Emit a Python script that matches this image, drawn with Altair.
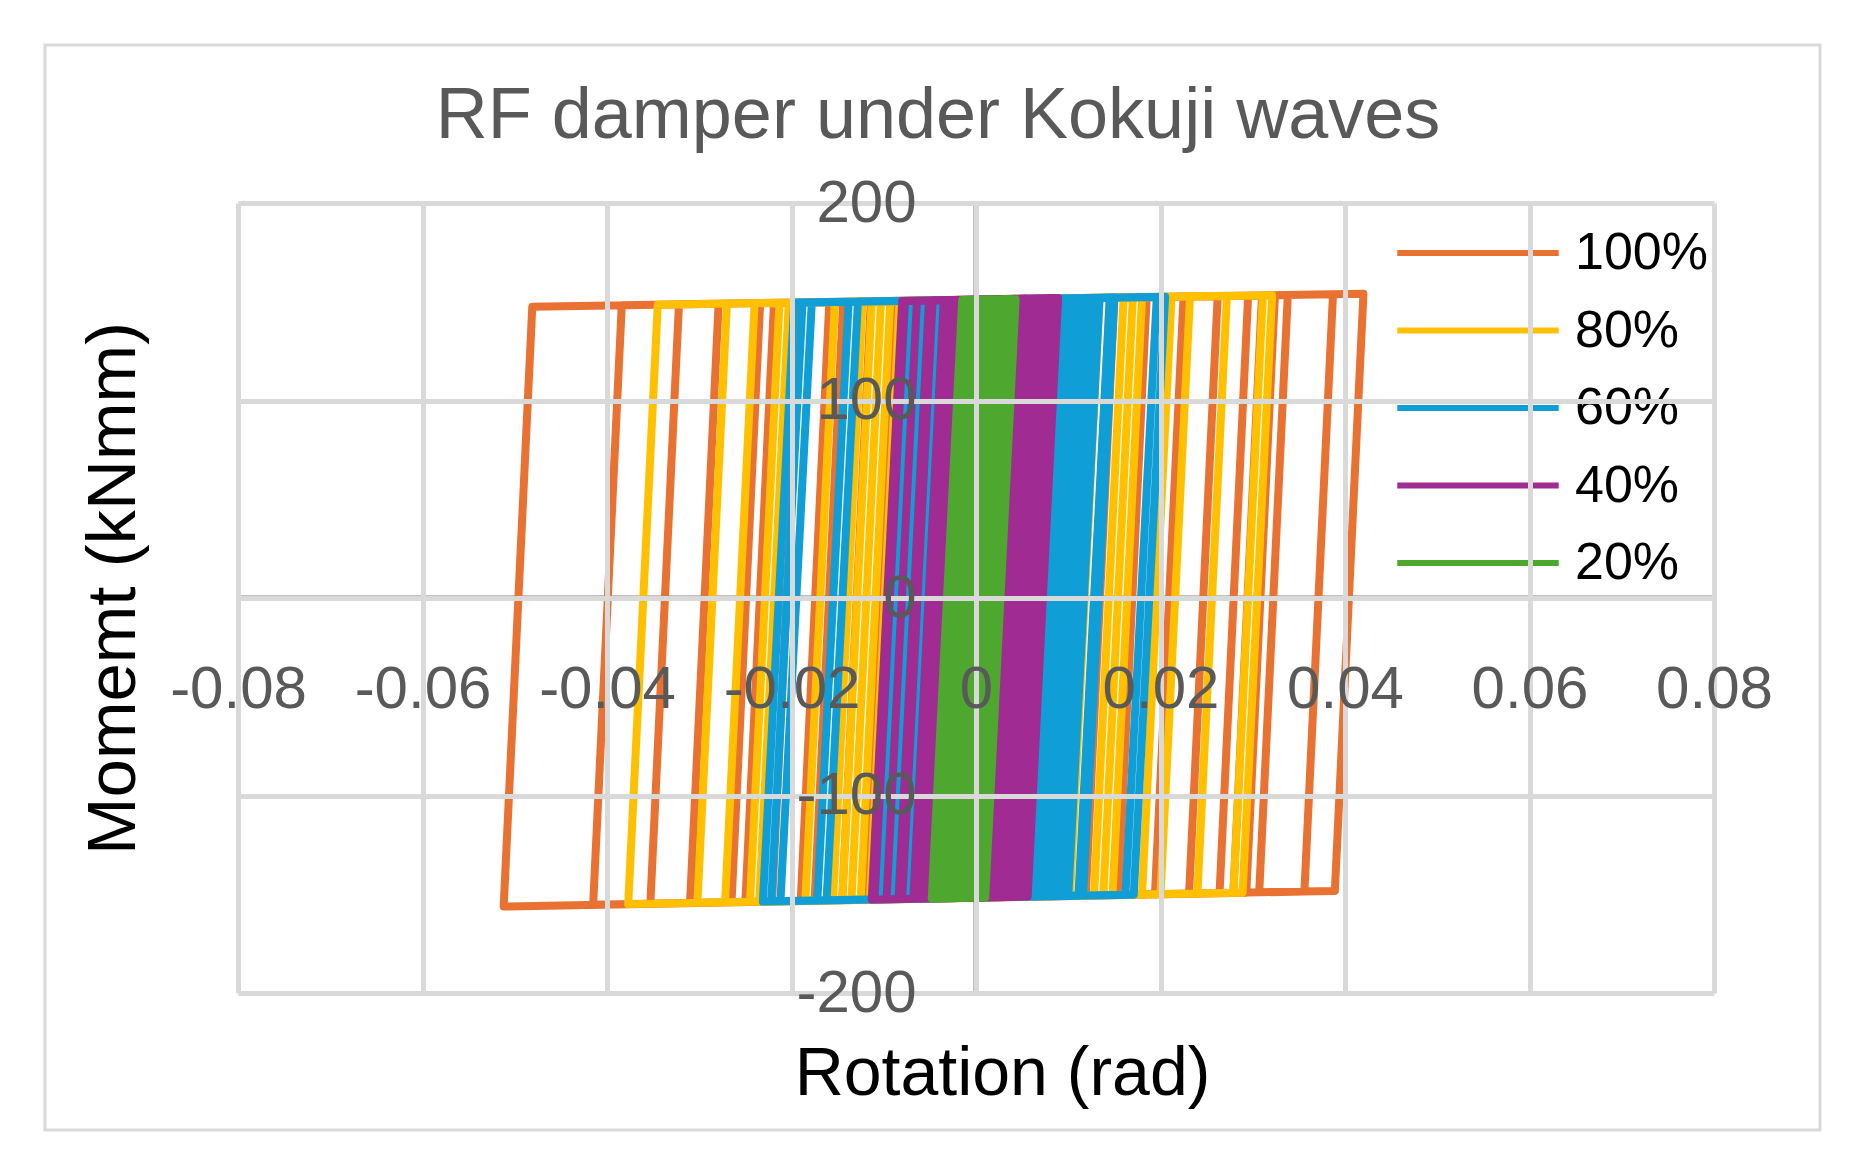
import altair as alt
import pandas as pd

# ---------------- data ----------------
series_names = ["100%", "80%", "60%", "40%", "20%"]
series_colors = ["#E97132", "#FFC000", "#0F9ED5", "#A02B93", "#4EA72E"]
x_ticks = [-0.08, -0.06, -0.04, -0.02, 0, 0.02, 0.04, 0.06, 0.08]
y_ticks = [-200, -100, 0, 100, 200]

# hysteresis path vertices: rotation (rad) and moment (kNmm)
rot_100 = [0.0040,
           -0.0512, -0.0481, 0.0420, 0.0389,
           -0.0415, -0.0384, 0.0387, 0.0356,
           -0.0353, -0.0322, 0.0338, 0.0307,
           -0.0310, -0.0279, 0.0324, 0.0293,
           -0.0265, -0.0234, 0.0310, 0.0279,
           -0.0250, -0.0219, 0.0295, 0.0264,
           -0.0221, -0.0190, 0.0262, 0.0231,
           -0.0190, -0.0159, 0.0225, 0.0194,
           -0.0175, -0.0144, 0.0185, 0.0154,
           -0.0145, -0.0114, 0.0150, 0.0119,
           -0.0120, -0.0089, 0.0110, 0.0079,
           -0.0090, -0.0059, 0.0080, 0.0049]
mom_100 = [-151.4,
           -156.2, 147.5, 154.0, -148.3,
           -155.3, 148.2, 153.8, -148.6,
           -154.8, 148.7, 153.4, -149.0,
           -154.4, 149.0, 153.3, -149.2,
           -154.0, 149.3, 153.2, -149.3,
           -153.9, 149.4, 153.1, -149.4,
           -153.6, 149.6, 152.9, -149.7,
           -153.4, 149.9, 152.6, -150.0,
           -153.2, 150.0, 152.3, -150.4,
           -153.0, 150.2, 152.1, -150.7,
           -152.7, 150.4, 151.8, -151.0,
           -152.5, 150.6, 151.6, -151.3]

rot_80 = [0.0030,
          -0.0377, -0.0345, 0.0321, 0.0289,
          -0.0302, -0.0270, 0.0311, 0.0279,
          -0.0272, -0.0240, 0.0272, 0.0240,
          -0.0245, -0.0213, 0.0232, 0.0200,
          -0.0235, -0.0203, 0.0212, 0.0180,
          -0.0185, -0.0153, 0.0180, 0.0148,
          -0.0155, -0.0123, 0.0170, 0.0138,
          -0.0145, -0.0113, 0.0160, 0.0128,
          -0.0135, -0.0103, 0.0145, 0.0113,
          -0.0125, -0.0093, 0.0134, 0.0102,
          -0.0115, -0.0083, 0.0120, 0.0088]
mom_80 = [-151.4,
          -155.0, 148.5, 153.3, -149.2,
          -154.3, 149.1, 153.2, -149.3,
          -154.1, 149.3, 153.0, -149.6,
          -153.8, 149.5, 152.7, -150.0,
          -153.7, 149.5, 152.5, -150.1,
          -153.3, 149.9, 152.3, -150.4,
          -153.0, 150.1, 152.2, -150.5,
          -153.0, 150.2, 152.2, -150.6,
          -152.9, 150.3, 152.0, -150.7,
          -152.8, 150.3, 152.0, -150.8,
          -152.7, 150.4, 151.9, -150.9]

rot_60 = [0.0020,
          -0.0231, -0.0197, 0.0205, 0.0171,
          -0.0222, -0.0188, 0.0196, 0.0162,
          -0.0212, -0.0178, 0.0150, 0.0116,
          -0.0172, -0.0138, 0.0145, 0.0111,
          -0.0162, -0.0128, 0.0134, 0.0100,
          -0.0104, -0.0070, 0.0128, 0.0094,
          -0.0090, -0.0056, 0.0122, 0.0088,
          -0.0075, -0.0041, 0.0116, 0.0082,
          -0.0065, -0.0031, 0.0110, 0.0076,
          -0.0055, -0.0021, 0.0104, 0.0070,
          -0.0045, -0.0011, 0.0098, 0.0064,
          -0.0035, -0.0001, 0.0092, 0.0058]
mom_60 = [-151.5,
          -153.7, 149.6, 152.5, -150.2,
          -153.6, 149.6, 152.4, -150.3,
          -153.5, 149.7, 152.1, -150.7,
          -153.2, 150.0, 152.0, -150.7,
          -153.1, 150.1, 152.0, -150.8,
          -152.6, 150.5, 151.9, -150.9,
          -152.5, 150.6, 151.9, -150.9,
          -152.4, 150.7, 151.8, -151.0,
          -152.3, 150.8, 151.8, -151.0,
          -152.2, 150.8, 151.7, -151.1,
          -152.1, 150.9, 151.7, -151.1,
          -152.0, 151.0, 151.7, -151.2]

rot_40 = [0.0010,
          -0.0113, -0.0080, 0.0089, 0.0056,
          -0.0110, -0.0077, 0.0085, 0.0052,
          -0.0097, -0.0064, 0.0080, 0.0047,
          -0.0084, -0.0051, 0.0075, 0.0042,
          -0.0080, -0.0047, 0.0069, 0.0036,
          -0.0068, -0.0035, 0.0064, 0.0031,
          -0.0063, -0.0030, 0.0059, 0.0026,
          -0.0058, -0.0025, 0.0054, 0.0021,
          -0.0053, -0.0020, 0.0049, 0.0016,
          -0.0048, -0.0015, 0.0044, 0.0011]
mom_40 = [-151.6,
          -152.7, 150.4, 151.9, -151.2,
          -152.7, 150.4, 151.9, -151.2,
          -152.5, 150.5, 151.8, -151.3,
          -152.4, 150.6, 151.8, -151.3,
          -152.4, 150.7, 151.7, -151.4,
          -152.3, 150.7, 151.7, -151.4,
          -152.2, 150.8, 151.6, -151.5,
          -152.2, 150.8, 151.6, -151.5,
          -152.2, 150.9, 151.5, -151.6,
          -152.1, 150.9, 151.5, -151.6]

rot_20 = [0.0005,
          -0.0048, -0.0015, 0.0043, 0.0010,
          -0.0044, -0.0011, 0.0039, 0.0006,
          -0.0040, -0.0007, 0.0035, 0.0002,
          -0.0036, -0.0003, 0.0031, -0.0002,
          -0.0032, 0.0001, 0.0027, -0.0006,
          -0.0028, 0.0005, 0.0023, -0.0010,
          -0.0024, 0.0009, 0.0019, -0.0014,
          -0.0020, 0.0013, 0.0015, -0.0018]
mom_20 = [-151.7,
          -152.1, 150.9, 151.3, -151.6,
          -152.1, 150.9, 151.3, -151.6,
          -152.0, 150.9, 151.3, -151.7,
          -152.0, 151.0, 151.2, -151.7,
          -152.0, 151.0, 151.2, -151.8,
          -151.9, 151.0, 151.2, -151.8,
          -151.9, 151.1, 151.1, -151.8,
          -151.9, 151.1, 151.1, -151.9]

rots = [rot_100, rot_80, rot_60, rot_40, rot_20]
moms = [mom_100, mom_80, mom_60, mom_40, mom_20]

frames = []
for name, r, m in zip(series_names, rots, moms):
    if len(r) != len(m):
        raise ValueError(f"length mismatch in {name}: {len(r)} vs {len(m)}")
    frames.append(pd.DataFrame({"rot": r, "mom": m, "series": name,
                                "idx": list(range(len(r)))}))
df = pd.concat(frames, ignore_index=True)
zero_df = pd.DataFrame({"z": [0]})

# ---------------- styling ----------------
FONT = "Liberation Sans"
W, H = 1476, 790

x_axis = alt.Axis(values=x_ticks, grid=True, gridColor="#D9D9D9", gridWidth=5,
                  domain=False, ticks=False, tickSize=0,
                  labelExpr="toString(datum.value)", labelFont=FONT, labelFontSize=60,
                  labelColor="#595959", labelPadding=62, labelFlush=False,
                  labelOverlap=False, offset=-395,
                  title="Rotation (rad)", titleFont=FONT, titleFontSize=68,
                  titleFontWeight="normal", titleColor="#000000",
                  titleX=764, titleY=476, titleAlign="center", titleBaseline="middle",
                  zindex=1)
y_axis = alt.Axis(values=y_ticks, grid=True, gridColor="#D9D9D9", gridWidth=5,
                  domain=False, ticks=False, tickSize=0,
                  labelExpr="toString(datum.value)", labelFont=FONT, labelFontSize=60,
                  labelColor="#595959", labelPadding=60, labelFlush=False,
                  labelOverlap=False, offset=-738,
                  title="Momemt (kNmm)", titleFont=FONT, titleFontSize=69,
                  titleFontWeight="normal", titleColor="#000000", titleAngle=270,
                  titleX=-863, titleY=385, titleAlign="center", titleBaseline="middle",
                  zindex=1)

x_scale = alt.Scale(domain=[-0.08, 0.08], nice=False, zero=False)
y_scale = alt.Scale(domain=[-200, 200], nice=False, zero=False)

color = alt.Color("series:N",
                  scale=alt.Scale(domain=series_names, range=series_colors),
                  legend=alt.Legend(title="", orient="none", legendX=1209, legendY=19,
                                    symbolType="M-2.9,0H2.9", symbolSize=3100,
                                    symbolStrokeWidth=6, symbolFillColor="transparent",
                                    labelFont=FONT, labelFontSize=52, labelColor="#000000",
                                    labelOffset=66, rowPadding=20.5, padding=0,
                                    titlePadding=0))

border = alt.Chart(zero_df).mark_rect(fill="transparent", stroke="#D9D9D9",
                                      strokeWidth=3).encode(
    x=alt.value(-193), x2=alt.value(1582), y=alt.value(-158), y2=alt.value(927))

vrule = alt.Chart(zero_df).mark_rule(color="#BFBFBF", strokeWidth=6).encode(
    x=alt.X("z:Q", scale=x_scale, axis=x_axis))
hrule = alt.Chart(zero_df).mark_rule(color="#BFBFBF", strokeWidth=6).encode(
    y=alt.Y("z:Q", scale=y_scale, axis=y_axis))

lines = []
for name in series_names:
    lines.append(
        alt.Chart(df).transform_filter(alt.datum.series == name)
        .mark_line(strokeWidth=8, strokeJoin="round", strokeCap="butt")
        .encode(x=alt.X("rot:Q", scale=x_scale, axis=x_axis),
                y=alt.Y("mom:Q", scale=y_scale, axis=y_axis),
                color=color,
                order=alt.Order("idx:Q"))
    )

chart = alt.layer(border, vrule, hrule, *lines).properties(
    width=W, height=H,
    padding={"left": 230, "top": 195, "right": 126, "bottom": 157},
    autosize=alt.AutoSizeParams(type="none"),
    background="white",
    title=alt.TitleParams(text="RF damper under Kokuji waves", font=FONT, fontSize=72,
                          fontWeight="normal", color="#595959", anchor="middle",
                          frame="group", dx=-38, offset=-166, baseline="alphabetic"),
).configure_view(stroke="transparent")

chart.save("out.html", embed_options={"renderer": "svg", "actions": False})
